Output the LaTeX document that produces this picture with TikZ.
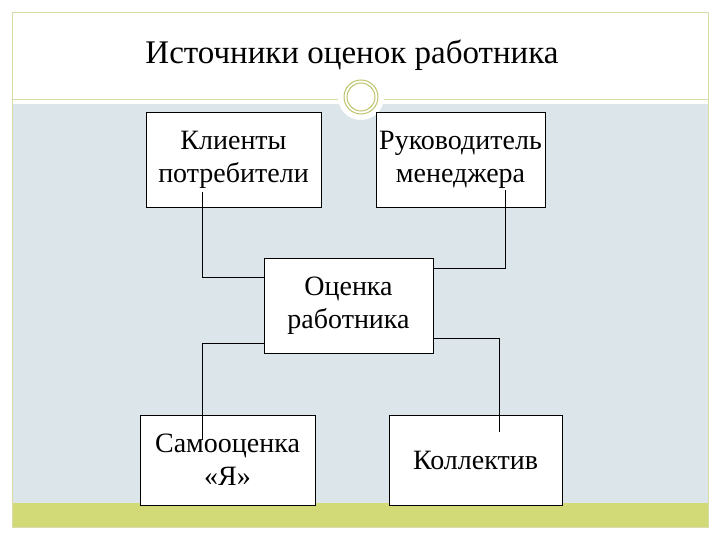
\documentclass[tikz,border=0pt]{standalone}
\usepackage{fontspec}
\setmainfont{Liberation Serif}
\definecolor{bgblue}{HTML}{DCE5E9}
\definecolor{olive}{HTML}{D2DA78}
\definecolor{oliveline}{HTML}{D8DCA8}
\begin{document}
\begin{tikzpicture}[x=1pt,y=-1pt,
  bx/.style={draw=black,fill=white,line width=0.8pt,inner sep=0pt,font=\fontsize{28}{33}\selectfont,align=center},
  ln/.style={draw=black,line width=0.8pt}]
\useasboundingbox (0,0) rectangle (720,540);
\fill[white] (0,0) rectangle (720,540);
\fill[bgblue] (12,104) rectangle (708,503);
\fill[olive] (12,503) rectangle (708,527);
\draw[oliveline,line width=0.8pt] (12,12) rectangle (708,527);
\draw[oliveline,line width=1pt] (12,100) -- (708,100);
\fill[white] (361,97) circle (23);
\draw[olive!90!black,line width=1pt] (361,97) circle (17);
\draw[olive!90!black,line width=1pt] (361,97) circle (14);
\node[font=\fontsize{33}{38}\selectfont] (title) at (352,55) {Источники оценок работника};
\node[bx,minimum width=175,minimum height=95] (k) at (233.5,159.5) {Клиенты\\потребители};
\node[bx,minimum width=169,minimum height=95] (r) at (460.5,159.5) {Руководитель\\менеджера};
\node[bx,minimum width=169,minimum height=95] (o) at (348.5,305.5) {Оценка\\работника};
\node[bx,minimum width=175,minimum height=90] (s) at (227.5,460) {Самооценка\\«Я»};
\node[bx,minimum width=173,minimum height=90] (c) at (475.5,460) {Коллектив};
\draw[ln] ([xshift=57pt,yshift=15pt]k.south west) |- (o.west |- 0,277);
\draw[ln] ([xshift=130pt,yshift=17pt]r.south west) |- (o.east |- 0,268);
\draw[ln] (o.west |- 0,343) -| ([xshift=63pt,yshift=-25pt]s.north west);
\draw[ln] (o.east |- 0,338) -| ([xshift=111pt,yshift=-17pt]c.north west);
\end{tikzpicture}
\end{document}
